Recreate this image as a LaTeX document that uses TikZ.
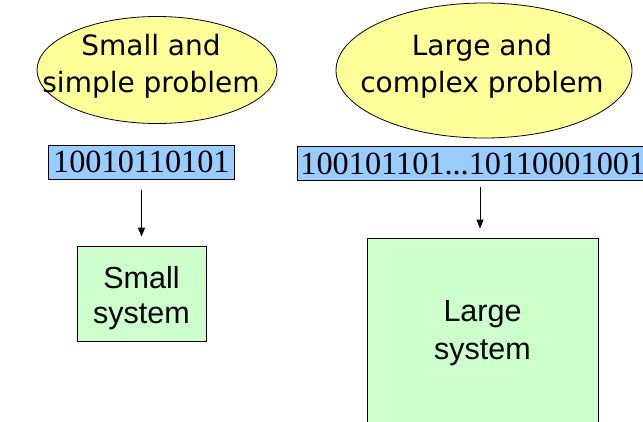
\documentclass[tikz,border=0pt]{standalone}
\usepackage{fontspec}
\setmainfont{Liberation Serif}
\newfontfamily\probfont{DejaVu Sans}
\newfontfamily\sysfont{Liberation Sans}
\usetikzlibrary{shapes.geometric,arrows.meta}
\definecolor{probyellow}{HTML}{FFFF99}
\definecolor{bitblue}{HTML}{99CCFF}
\definecolor{sysgreen}{HTML}{CCFFCC}
\begin{document}
\begin{tikzpicture}[x=1pt,y=-1pt,
  probell/.style={ellipse,draw=black,line width=0.8pt,fill=probyellow,inner sep=0pt},
  probtxt/.style={align=center,inner sep=0pt,font=\probfont\fontsize{28}{37}\selectfont},
  bitbox/.style={draw=black,line width=0.8pt,fill=bitblue,anchor=west,inner xsep=3pt,inner ysep=0pt,minimum height=34pt,font=\fontsize{32.3}{34}\selectfont},
  sysbox/.style={draw=black,line width=0.8pt,fill=sysgreen,inner sep=0pt},
  systxt/.style={align=center,inner sep=0pt},
  conn/.style={line width=1pt,-{Triangle[width=7pt,length=9pt]}}]
\useasboundingbox (0,0) rectangle (643,421);
\clip (0,0) rectangle (643,421);
% problems
\node[probell,minimum width=240pt,minimum height=107pt] (p1) at (157,70) {};
\node[probtxt] (p1t) at (151,66.3) {Small and\\simple problem};
\node[probell,minimum width=296pt,minimum height=135pt] (p2) at (484,70.5) {};
\node[probtxt] (p2t) at (482,66.3) {Large and\\complex problem};
% bit strings
\node[bitbox,minimum width=186pt] (b1) at (48,162) {10010110101};
\node[bitbox,minimum width=360pt,text width=354pt,align=left] (b2) at (297,163.5) {100101101...10110001001};
% systems
\node[sysbox,minimum width=129pt,minimum height=95pt] (s1) at (141.5,293.5) {};
\node[systxt,font=\sysfont\fontsize{30.5}{35}\selectfont] (s1t) at (141.5,298) {Small\\system};
\node[sysbox,minimum width=231pt,minimum height=188pt] (s2) at (482.5,332) {};
\node[systxt,font=\sysfont\fontsize{30.5}{38}\selectfont] (s2t) at (482.5,333.5) {Large\\system};
% connectors
\draw[conn,shorten <=11pt,shorten >=9pt] (b1.south -| s1.north) -- (s1.north);
\draw[conn,shorten <=6pt,shorten >=9pt] ([xshift=-2.5pt]b2.south -| s2.north) -- ([xshift=-2.5pt]s2.north);
\end{tikzpicture}
\end{document}
